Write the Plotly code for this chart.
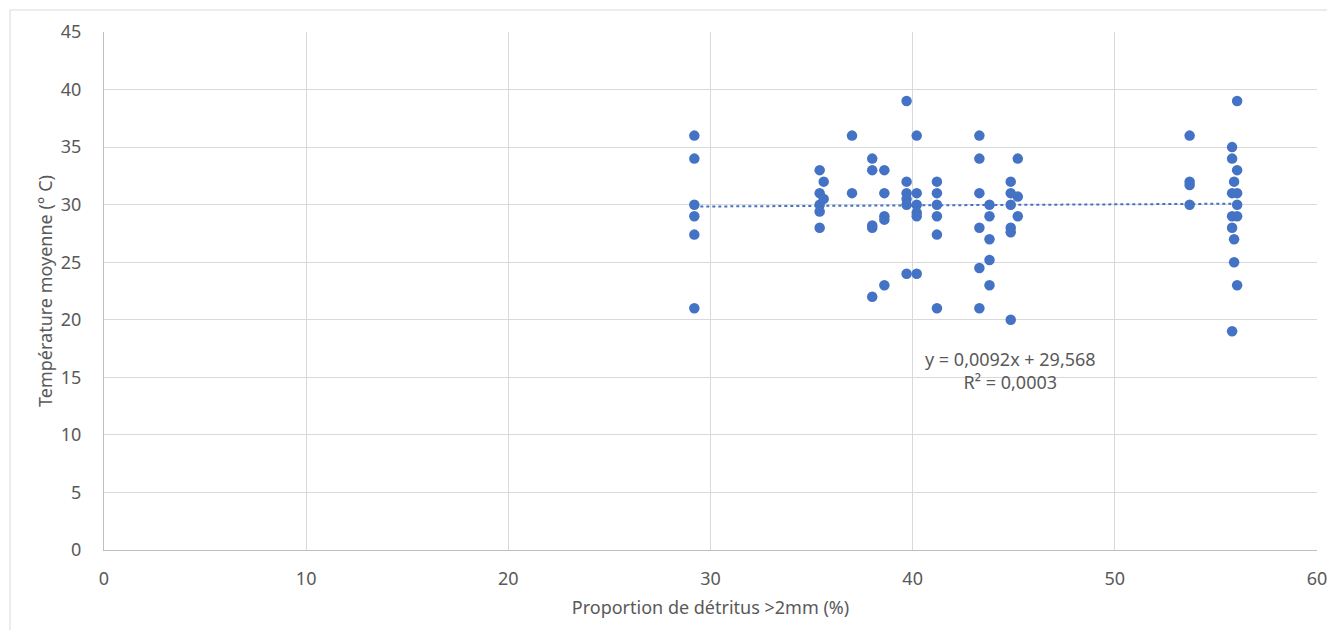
import plotly.graph_objects as go

# Data (x = proportion of debris >2mm, y = mean temperature)
x_vals = [
    29.2, 29.2, 29.2, 29.2, 29.2, 29.2,
    35.4, 35.4, 35.4, 35.4, 35.4, 35.6, 35.6,
    37.0, 37.0,
    38.0, 38.0, 38.0, 38.0, 38.0,
    38.6, 38.6, 38.6, 38.6, 38.6,
    39.7, 39.7, 39.7, 39.7, 39.7, 39.7,
    40.2, 40.2, 40.2, 40.2, 40.2, 40.2,
    41.2, 41.2, 41.2, 41.2, 41.2, 41.2,
    43.3, 43.3, 43.3, 43.3, 43.3, 43.3,
    43.8, 43.8, 43.8, 43.8, 43.8,
    44.85, 44.85, 44.85, 44.85, 44.85, 44.85,
    45.2, 45.2, 45.2,
    53.7, 53.7, 53.7, 53.7,
    56.05, 55.8, 55.8, 56.05, 55.9, 56.05, 55.8, 56.05, 55.8, 56.05, 55.8, 55.9, 55.9, 56.05, 55.8,
]
y_vals = [
    36, 34, 30, 29, 27.4, 21,
    33, 31, 30, 29.4, 28, 32, 30.5,
    36, 31,
    34, 33, 28.2, 28, 22,
    33, 31, 29, 28.7, 23,
    39, 32, 31, 30.5, 30, 24,
    36, 31, 30, 29.3, 29, 24,
    32, 31, 30, 29, 27.4, 21,
    36, 34, 31, 28, 24.5, 21,
    30, 29, 27, 25.2, 23,
    32, 31, 30, 28, 27.6, 20,
    34, 30.7, 29,
    36, 32, 31.7, 30,
    39, 35, 34, 33, 32, 31, 31, 30, 29, 29, 28, 27, 25, 23, 19,
]

slope = 0.0092
intercept = 29.568
r2 = 0.0003

x_ticks = [0, 10, 20, 30, 40, 50, 60]
y_ticks = [0, 5, 10, 15, 20, 25, 30, 35, 40, 45]

x_title = "Proportion de détritus >2mm (%)"
y_title = "Température moyenne (° C)"

blue = "#4472C4"
grid = "#D9D9D9"
txt = "#595959"
font_family = "Noto Sans, Open Sans, sans-serif"
fs = 18

# page body has an 8px margin; figure sized so the page does not overflow the window
W, H = 1319, 622
ML, MR, MT, MB = 96, 10, 24, 80
PW, PH = W - ML - MR, H - MT - MB

fig = go.Figure()

xmin, xmax = min(x_vals), max(x_vals)
fig.add_trace(go.Scatter(
    x=[xmin, xmax], y=[slope * xmin + intercept, slope * xmax + intercept],
    mode="lines", line=dict(color=blue, width=2, dash="dot"),
    hoverinfo="skip", showlegend=False,
))
fig.add_trace(go.Scatter(
    x=x_vals, y=y_vals, mode="markers",
    marker=dict(color=blue, size=10.5, line=dict(width=0)),
    showlegend=False,
))

fig.add_annotation(
    x=44.85, y=15.6, xref="x", yref="y",
    text=f"y = {str(slope).replace('.', ',')}x + {str(intercept).replace('.', ',')}<br>R² = {str(r2).replace('.', ',')}",
    showarrow=False, align="center",
    font=dict(size=fs, color=txt, family=font_family),
)

fig.update_layout(
    width=W, height=H,
    margin=dict(l=ML, r=MR, t=MT, b=MB),
    paper_bgcolor="white", plot_bgcolor="white",
    font=dict(family=font_family, size=fs, color=txt),
    showlegend=False,
    shapes=[dict(type="rect", xref="paper", yref="paper",
                 x0=(2 - ML) / PW, x1=1 + (MR + 10) / PW,
                 y0=-(MB + 10) / PH, y1=1 + (MT - 2) / PH,
                 line=dict(color="#D9D9D9", width=1), fillcolor="rgba(0,0,0,0)", layer="below")],
)
fig.update_xaxes(
    range=[0, 60], tickvals=x_ticks, ticktext=[str(v) for v in x_ticks],
    showgrid=True, gridcolor=grid, gridwidth=1, zeroline=False,
    showline=True, linecolor="#BFBFBF", linewidth=1,
    ticks="", ticklabelstandoff=12, ticklabeloverflow="allow",
    automargin=False,
    title=dict(text=x_title, font=dict(size=fs, color=txt), standoff=12),
    tickfont=dict(size=fs, color=txt),
)
fig.update_yaxes(
    range=[0, 45], tickvals=y_ticks, ticktext=[str(v) for v in y_ticks],
    showgrid=True, gridcolor=grid, gridwidth=1, zeroline=False,
    showline=True, linecolor="#BFBFBF", linewidth=1,
    ticks="", ticklabelstandoff=18,
    title=dict(text=y_title, font=dict(size=fs, color=txt), standoff=3),
    tickfont=dict(size=fs, color=txt),
)

fig.write_html("out.html")
